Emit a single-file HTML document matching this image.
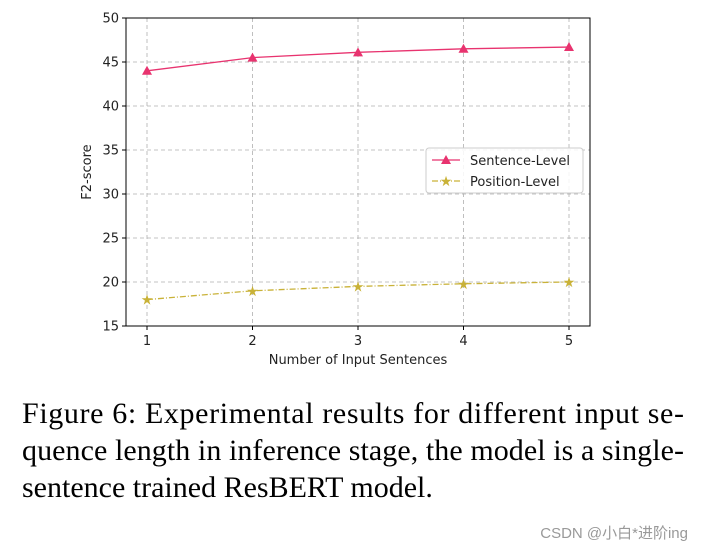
<!DOCTYPE html>
<html><head><meta charset="utf-8"><style>
body{margin:0;background:#fff;width:703px;height:552px;overflow:hidden}
svg{display:block}
.t{font-family:"DejaVu Sans",sans-serif;font-size:13px;fill:#222}
.cap{font-family:"Liberation Serif",serif;font-size:30px;fill:#000}
</style></head><body>
<svg id="chart" width="703" height="552" xmlns="http://www.w3.org/2000/svg">
<g id="grid"></g><g id="axes"></g><g id="series"></g>
<g>
<rect x="426" y="148" width="157" height="45" rx="3" fill="#fff" fill-opacity="0.85" stroke="#ccc"/>
<line x1="432" y1="160" x2="460" y2="160" stroke="#e8336f" stroke-width="1.3"/>
<polygon points="446,155 451,164 441,164" fill="#e8336f"/>
<text class="t" x="470" y="165">Sentence-Level</text>
<line x1="432" y1="181" x2="460" y2="181" stroke="#c9b238" stroke-width="1.3" stroke-dasharray="6,2,1,2"/>
<text x="446" y="186" text-anchor="middle" font-size="14" fill="#c9b238">★</text>
<text class="t" x="470" y="186">Position-Level</text>
</g>
<text class="t" x="358" y="364" text-anchor="middle">Number of Input Sentences</text>
<text class="t" transform="translate(91,172) rotate(-90)" text-anchor="middle">F2-score</text>
<g>
<text class="cap" x="22" y="423" textLength="662" lengthAdjust="spacing">Figure 6: Experimental results for different input se-</text>
<text class="cap" x="22" y="460" textLength="662" lengthAdjust="spacing">quence length in inference stage, the model is a single-</text>
<text class="cap" x="22" y="497">sentence trained ResBERT model.</text>
</g>
<text x="688" y="538" text-anchor="end" font-family="'Liberation Sans','Noto Sans CJK SC',sans-serif" font-size="15" fill="#999">CSDN @小白*进阶ing</text>
</svg>
<script>
const categories=[1,2,3,4,5];
const sentenceLevel=[44.0,45.5,46.1,46.5,46.7];
const positionLevel=[18.0,19.0,19.5,19.8,20.0];
const yTicks=[15,20,25,30,35,40,45,50];
const NS="http://www.w3.org/2000/svg";
const L=126,R=590,T=18,B=326;
const xs=v=>147+(v-1)*(569-147)/4;
const ys=v=>B-(v-15)*(B-T)/35;
function mk(tag,attrs,parent,txt){const e=document.createElementNS(NS,tag);for(const k in attrs)e.setAttribute(k,attrs[k]);if(txt!==undefined)e.textContent=txt;parent.appendChild(e);return e;}
const grid=document.getElementById('grid'),axes=document.getElementById('axes'),series=document.getElementById('series');
categories.forEach(c=>{
 const g=mk('line',{x1:xs(c),x2:xs(c),y1:T,y2:B,stroke:'#b0b0b0','stroke-dasharray':'4,3','stroke-width':0.8},grid);
 
 
 mk('line',{x1:xs(c),x2:xs(c),y1:B,y2:B+4,stroke:'#000'},axes);
 const t=mk('text',{x:xs(c),y:B+19,'text-anchor':'middle',class:'t'},axes,c);
 
 
});
yTicks.forEach(v=>{
 const g=mk('line',{x1:L,x2:R,y1:ys(v),y2:ys(v),stroke:'#b0b0b0','stroke-dasharray':'4,3','stroke-width':0.8},grid);
 
 
 mk('line',{x1:L-4,x2:L,y1:ys(v),y2:ys(v),stroke:'#000'},axes);
 const t=mk('text',{x:L-7,y:ys(v)+4.5,'text-anchor':'end',class:'t'},axes,v);
 
 
});
const fr=mk('rect',{x:L,y:T,width:R-L,height:B-T,fill:'none',stroke:'#000','stroke-width':1},axes);


const p1=mk('polyline',{points:categories.map((c,i)=>xs(c)+','+ys(sentenceLevel[i])).join(' '),fill:'none',stroke:'#e8336f','stroke-width':1.3},series);


const p2=mk('polyline',{points:categories.map((c,i)=>xs(c)+','+ys(positionLevel[i])).join(' '),fill:'none',stroke:'#c9b238','stroke-width':1.3,'stroke-dasharray':'6,2,1,2'},series);


categories.forEach((c,i)=>{
 const x=xs(c),y=ys(sentenceLevel[i]);
 const m=mk('polygon',{points:`${x},${y-5} ${x+5},${y+4} ${x-5},${y+4}`,fill:'#e8336f'},series);
 
 
 const s=mk('text',{x:x,y:ys(positionLevel[i])+5,'text-anchor':'middle','font-size':14,fill:'#c9b238'},series,'★');
 
 
});
</script>
</body></html>
